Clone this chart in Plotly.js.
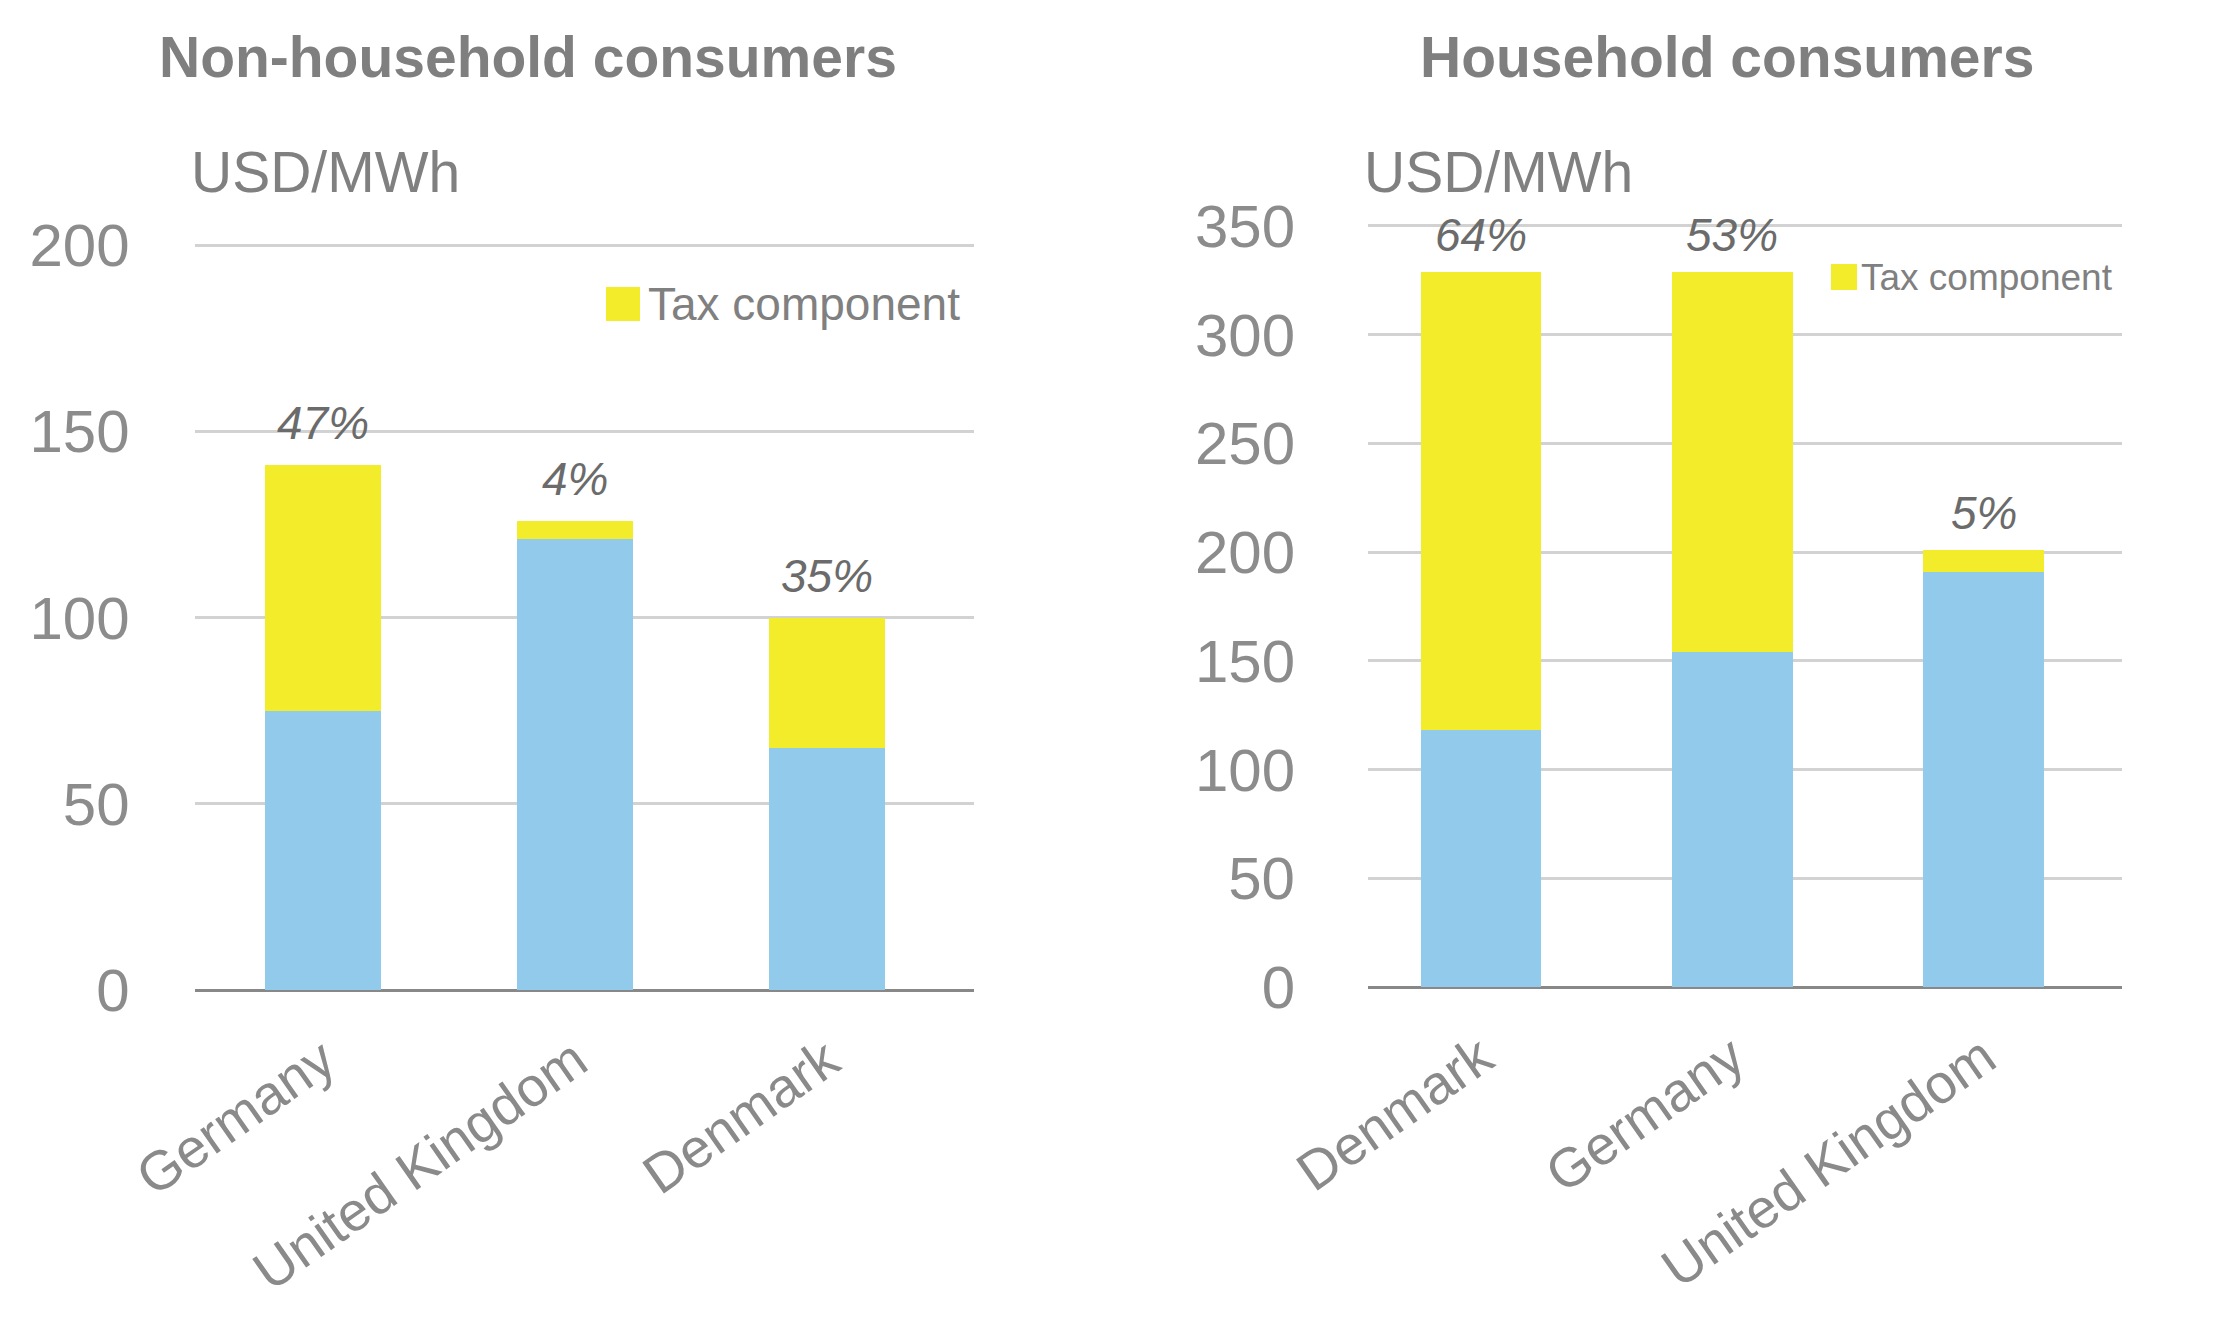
<!DOCTYPE html>
<html>
<head>
<meta charset="utf-8">
<script src="https://cdn.plot.ly/plotly-3.0.1.min.js"></script>
<style>html,body{margin:0;padding:0;background:#fff;}#chart{width:2221px;height:1332px;}</style>
</head>
<body>
<div id="chart"></div>
<script>
// Non-household consumers
const nhCategories = ["Germany", "United Kingdom", "Denmark"];
const nhBase = [75, 121, 65];
const nhTax = [66, 5, 35];
const nhPctLabels = ["47%", "4%", "35%"];

// Household consumers
const hhCategories = ["Denmark", "Germany", "United Kingdom"];
const hhBase = [118, 154, 191];
const hhTax = [211, 175, 10];
const hhPctLabels = ["64%", "53%", "5%"];

const yTicksLeft = [0, 50, 100, 150, 200];
const yTicksRight = [0, 50, 100, 150, 200, 250, 300, 350];

const titles = ["Non-household consumers", "Household consumers"];
const unitLabel = "USD/MWh";
const legendLabel = "Tax component";

const BLUE = "#92CAEB";
const YELLOW = "#F2EC2A";
const FONT = "Liberation Sans, Arial, sans-serif";

const W = 2221, H = 1332;
const px = v => v / W;
const py = v => 1 - v / H;

const traces = [
  {type: "bar", x: nhCategories, y: nhBase, xaxis: "x", yaxis: "y", width: 0.46, marker: {color: BLUE}, showlegend: false, hoverinfo: "skip"},
  {type: "bar", x: nhCategories, y: nhTax, xaxis: "x", yaxis: "y", width: 0.46, marker: {color: YELLOW}, name: legendLabel, showlegend: false, hoverinfo: "skip"},
  {type: "bar", x: hhCategories, y: hhBase, xaxis: "x2", yaxis: "y2", width: 0.48, marker: {color: BLUE}, showlegend: false, hoverinfo: "skip"},
  {type: "bar", x: hhCategories, y: hhTax, xaxis: "x2", yaxis: "y2", width: 0.48, marker: {color: YELLOW}, name: legendLabel, showlegend: false, hoverinfo: "skip"}
];

const annotations = [];
nhCategories.forEach((c, i) => {
  annotations.push({xref: "x", yref: "y", x: c, y: nhBase[i] + nhTax[i], text: nhPctLabels[i],
    showarrow: false, yanchor: "bottom", yshift: 14,
    font: {family: FONT, size: 46, color: "#6b6b6b", style: "italic"}});
});
hhCategories.forEach((c, i) => {
  annotations.push({xref: "x2", yref: "y2", x: c, y: hhBase[i] + hhTax[i], text: hhPctLabels[i],
    showarrow: false, yanchor: "bottom", yshift: 9,
    font: {family: FONT, size: 46, color: "#6b6b6b", style: "italic"}});
});
// titles
annotations.push({xref: "paper", yref: "paper", x: px(528), y: py(57), text: "<b>" + titles[0] + "</b>",
  showarrow: false, xanchor: "center", yanchor: "middle", font: {family: FONT, size: 57, color: "#7f7f7f"}});
annotations.push({xref: "paper", yref: "paper", x: px(1727), y: py(57), text: "<b>" + titles[1] + "</b>",
  showarrow: false, xanchor: "center", yanchor: "middle", font: {family: FONT, size: 57, color: "#7f7f7f"}});
// units
annotations.push({xref: "paper", yref: "paper", x: px(189), y: py(172), text: unitLabel,
  showarrow: false, xanchor: "left", yanchor: "middle", font: {family: FONT, size: 57, color: "#808080"}});
annotations.push({xref: "paper", yref: "paper", x: px(1362), y: py(172), text: unitLabel,
  showarrow: false, xanchor: "left", yanchor: "middle", font: {family: FONT, size: 57, color: "#808080"}});
// legends
annotations.push({xref: "paper", yref: "paper", x: px(646), y: py(304), text: legendLabel,
  showarrow: false, xanchor: "left", yanchor: "middle", font: {family: FONT, size: 46, color: "#808080"}});
annotations.push({xref: "paper", yref: "paper", x: px(1859), y: py(277), text: legendLabel,
  showarrow: false, xanchor: "left", yanchor: "middle", font: {family: FONT, size: 37, color: "#808080"}});

const shapes = [
  {type: "rect", xref: "paper", yref: "paper", x0: px(606), x1: px(640), y0: py(287), y1: py(321), fillcolor: YELLOW, line: {width: 0}},
  {type: "rect", xref: "paper", yref: "paper", x0: px(1831), x1: px(1857), y0: py(264), y1: py(290), fillcolor: YELLOW, line: {width: 0}}
];

const axisY = {
  showgrid: true, gridcolor: "#d2d2d2", gridwidth: 3,
  zeroline: true, zerolinecolor: "#888888", zerolinewidth: 3,
  showline: false, ticks: "", tickfont: {family: FONT, size: 60, color: "#8c8c8c"},
  fixedrange: true
};
const axisX = {
  type: "category", showgrid: false, zeroline: false, showline: false, ticks: "",
  tickangle: -35, tickfont: {family: FONT, size: 55, color: "#8a8a8a"},
  ticklabelstandoff: 27, fixedrange: true
};

const layout = {
  width: W, height: H,
  margin: {l: 0, r: 0, t: 0, b: 0},
  paper_bgcolor: "#ffffff", plot_bgcolor: "#ffffff",
  barmode: "stack",
  showlegend: false,
  xaxis: Object.assign({}, axisX, {domain: [px(194.6), px(973.5)], range: [-0.51, 2.58], anchor: "y"}),
  yaxis: Object.assign({}, axisY, {domain: [py(990), py(241.3)], range: [0, 201], tickvals: yTicksLeft, ticklabelstandoff: 64, anchor: "x"}),
  xaxis2: Object.assign({}, axisX, {domain: [px(1368), px(2122)], range: [-0.45, 2.55], anchor: "y2"}),
  yaxis2: Object.assign({}, axisY, {domain: [py(987), py(223.8)], range: [0, 351], tickvals: yTicksRight, ticklabelstandoff: 72, anchor: "x2"}),
  annotations: annotations,
  shapes: shapes
};

Plotly.newPlot("chart", traces, layout, {staticPlot: true, displayModeBar: false});
</script>
</body>
</html>
